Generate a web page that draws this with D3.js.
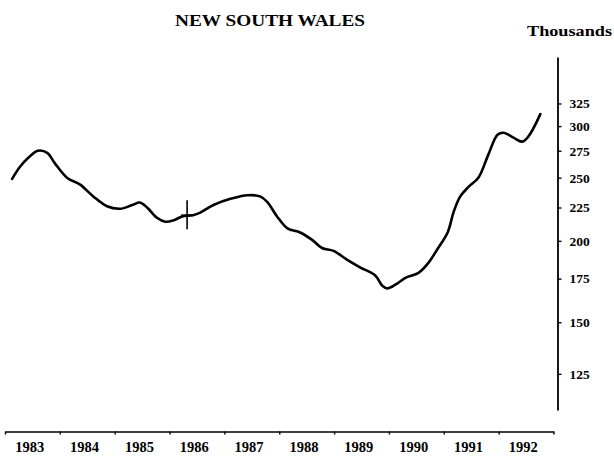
<!DOCTYPE html>
<html>
<head>
<meta charset="utf-8">
<script src="https://cdn.jsdelivr.net/npm/d3@7"></script>
<style>
  html, body { margin: 0; padding: 0; background: #fff; }
  svg { display: block; }
  text { font-family: "Liberation Serif", "Times New Roman", serif; font-weight: bold; fill: #000; }
</style>
</head>
<body>
<svg id="chart" width="614" height="462"></svg>
<script>
// ---- data ----
const title = "NEW SOUTH WALES";
const unitLabel = "Thousands";
const yearLabels = ["1983","1984","1985","1986","1987","1988","1989","1990","1991","1992"];
const yTickValues = [125, 150, 175, 200, 225, 250, 275, 300, 325];
const dates = [1983.13,1983.27,1983.42,1983.60,1983.77,1983.91,1984.13,1984.37,1984.61,1984.86,
  1985.10,1985.32,1985.46,1985.59,1985.77,1985.92,1986.07,1986.23,1986.43,1986.56,1986.80,
  1987.11,1987.42,1987.65,1987.78,1987.96,1988.15,1988.38,1988.60,1988.78,1988.99,
  1989.24,1989.48,1989.75,1989.88,1989.97,1990.15,1990.30,1990.54,1990.72,1990.88,
  1991.07,1991.18,1991.30,1991.45,1991.63,1991.81,1991.98,1992.09,1992.27,1992.43,1992.54,1992.76];
const values = [249,259.7,268,275,273,263,250,244,234,226,
  224,227,229,225,217,214,215,218,219,221,227,
  232,235,234,229.5,218,209,206,200.7,195,193,
  187,182,177,170.6,169,172,175.5,178.6,185,194,
  206,221.6,234,242,250,271,291,293,288,284,289,313];
const markDate = [1986.32];
const markValue = [219];

// ---- chart ----
const svg = d3.select("#chart");
const x = d3.scaleLinear().domain([1983, 1993]).range([5, 553.5]);
const y = d3.scaleLog().domain([110, 383]).range([410, 57]);

// title
svg.append("text").attr("x", 270).attr("y", 26).attr("text-anchor", "middle")
  .attr("font-size", 17).attr("textLength", 190).attr("lengthAdjust", "spacingAndGlyphs").text(title);
svg.append("text").attr("x", 527).attr("y", 36)
  .attr("font-size", 14).attr("textLength", 85).attr("lengthAdjust", "spacingAndGlyphs").text(unitLabel);

// x axis
const xAxis = d3.axisBottom(x)
  .tickValues(d3.range(1983, 1994))
  .tickSize(3).tickSizeOuter(0).tickFormat("");
const gx = svg.append("g").attr("transform", "translate(0,431.5)").call(xAxis);
gx.select(".domain").attr("stroke", "#000").attr("stroke-width", 1.6);
gx.selectAll(".tick line").attr("stroke", "#000").attr("stroke-width", 1.4);
svg.append("g").selectAll("text").data(yearLabels).join("text")
  .attr("x", d => x(+d + 0.45))
  .attr("y", 452)
  .attr("text-anchor", "middle")
  .attr("font-size", 14.5)
  .text(d => d);

// y axis
const yAxis = d3.axisRight(y)
  .tickValues(yTickValues)
  .tickSize(4).tickSizeOuter(0).tickPadding(8)
  .tickFormat(d3.format("d"));
const gy = svg.append("g").attr("transform", "translate(557.5,0)").call(yAxis);
gy.select(".domain").attr("stroke", "#000").attr("stroke-width", 1.8);
gy.selectAll(".tick line").attr("stroke", "#000").attr("stroke-width", 1.4);
gy.selectAll(".tick text").attr("font-size", 13.5)
  .attr("font-family", "'Liberation Serif', serif").attr("font-weight", "bold").attr("fill", "#000");

// line
const pts = dates.map((d, i) => [d, values[i]]);
const line = d3.line().x(d => x(d[0])).y(d => y(d[1])).curve(d3.curveCatmullRom.alpha(0.5));
svg.append("path").datum(pts)
  .attr("d", line)
  .attr("fill", "none")
  .attr("stroke", "#000")
  .attr("stroke-width", 2.6)
  .attr("stroke-linejoin", "round")
  .attr("stroke-linecap", "round");

// cross marker
const mx = x(markDate[0]), my = y(markValue[0]);
svg.append("line").attr("x1", mx).attr("x2", mx).attr("y1", my - 15).attr("y2", my + 14)
  .attr("stroke", "#000").attr("stroke-width", 1.6);
svg.append("line").attr("x1", mx - 6).attr("x2", mx + 6).attr("y1", my).attr("y2", my)
  .attr("stroke", "#000").attr("stroke-width", 1.6);
</script>
</body>
</html>
